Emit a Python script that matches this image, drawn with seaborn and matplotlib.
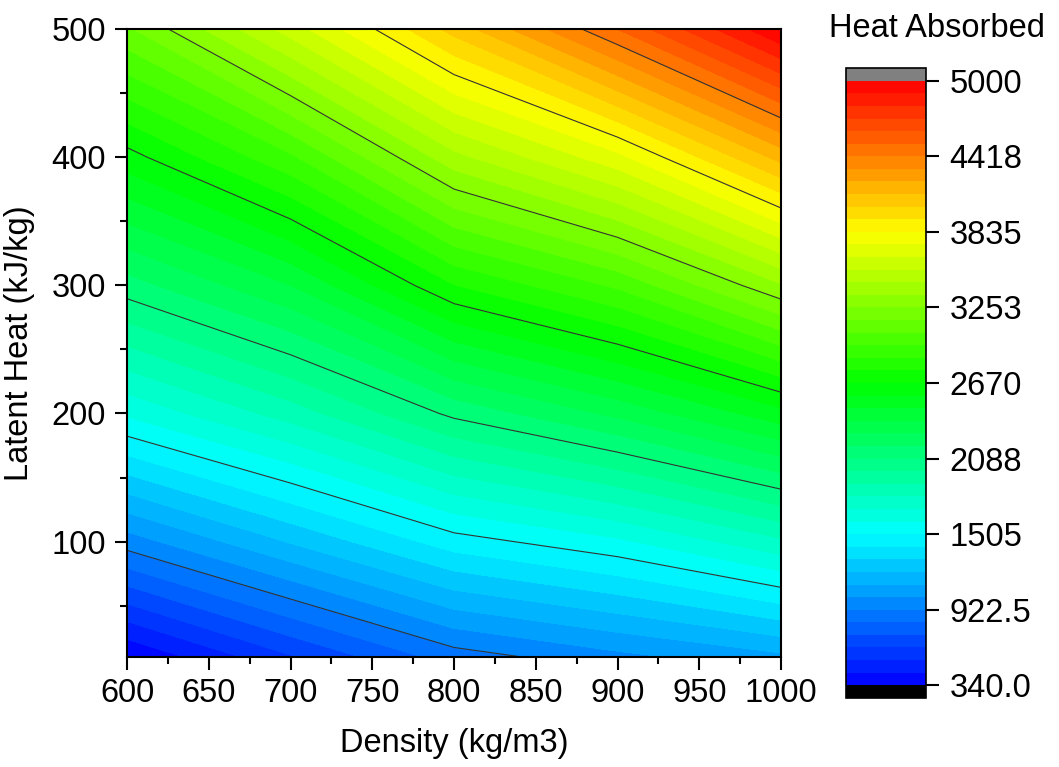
import numpy as np
import pandas as pd
import seaborn as sns
import matplotlib
matplotlib.use("Agg")
import matplotlib.pyplot as plt
from matplotlib.colors import LinearSegmentedColormap
from matplotlib.ticker import MultipleLocator

# Dados (grade densidade x calor latente)
density = [600, 700, 800, 900, 1000]
latent = [10, 100, 200, 300, 400, 500]
heat_L10 = [340, 620, 874, 990, 1092]
heat_L100 = [970, 1222, 1460, 1582, 1776]
heat_L200 = [1620, 1841, 2112, 2306, 2537]
heat_L300 = [2142, 2379, 2763, 2979, 3339]
heat_L400 = [2632, 2942, 3415, 3709, 4161]
heat_L500 = [3139, 3589, 4067, 4516, 5000]

cbar_ticks = [340.0, 922.5, 1505, 2087.5, 2670, 3252.5, 3835, 4417.5, 5000]
cbar_labels = ["340.0", "922.5", "1505", "2088", "2670", "3253", "3835", "4418", "5000"]

df = pd.DataFrame([heat_L10, heat_L100, heat_L200, heat_L300, heat_L400, heat_L500],
                  index=latent, columns=density)

sns.set_style("ticks")
plt.rcParams['font.family'] = ['Liberation Sans', 'DejaVu Sans']
plt.rcParams.update({'text.color': 'black', 'axes.labelcolor': 'black',
                     'xtick.color': 'black', 'ytick.color': 'black',
                     'axes.edgecolor': 'black'})

# Paleta "rainbow" do Origin
cmap = LinearSegmentedColormap.from_list(
    "origin_rainbow",
    [(0.0, "#0000ff"), (0.25, "#00ffff"), (0.5, "#00ff00"), (0.75, "#ffff00"), (1.0, "#ff0000")])
cmap.set_over("#808080")
cmap.set_under("#000000")

levels = np.linspace(340, 5000, 49)

fig = plt.figure(figsize=(10.59, 7.67), dpi=100)
ax = fig.add_axes([0.12, 0.1434, 0.6175, 0.8188])
cax = fig.add_axes([0.7989, 0.09, 0.0755, 0.8213])

X, Y = np.meshgrid(df.columns.values, df.index.values)
Z = df.values
cf = ax.contourf(X, Y, Z, levels=levels, cmap=cmap, extend='both', antialiased=False)
ax.contour(X, Y, Z, levels=levels[6:-1:6], colors="#333333", linewidths=0.8)

ax.set_xlim(600, 1000)
ax.set_ylim(10, 500)
ax.xaxis.set_major_locator(MultipleLocator(50))
ax.xaxis.set_minor_locator(MultipleLocator(25))
ax.set_yticks([100, 200, 300, 400, 500])
ax.yaxis.set_minor_locator(MultipleLocator(50))
ax.tick_params(which='major', direction='out', length=9, width=1.5, labelsize=23.5, pad=6)
ax.tick_params(which='minor', direction='out', length=5, width=1.5)
for sp in ax.spines.values():
    sp.set_linewidth(1.5)
    sp.set_color("black")

ax.set_xlabel("Density (kg/m3)", fontsize=23.5, labelpad=14)
ax.set_ylabel("Latent Heat (kJ/kg)", fontsize=23.5, labelpad=12)

cb = fig.colorbar(cf, cax=cax, extendrect=True, extendfrac=0.021, ticks=cbar_ticks)
cb.ax.set_yticklabels(cbar_labels)
cb.ax.tick_params(direction='out', length=9, width=1.5, labelsize=23.5, pad=8)
cb.ax.minorticks_off()
cb.outline.set_linewidth(1.2)
cb.outline.set_edgecolor("black")
fig.text(0.885, 0.963, "Heat Absorbed", fontsize=23.5, ha='center', va='center')

fig.savefig("out.png", dpi=100)
